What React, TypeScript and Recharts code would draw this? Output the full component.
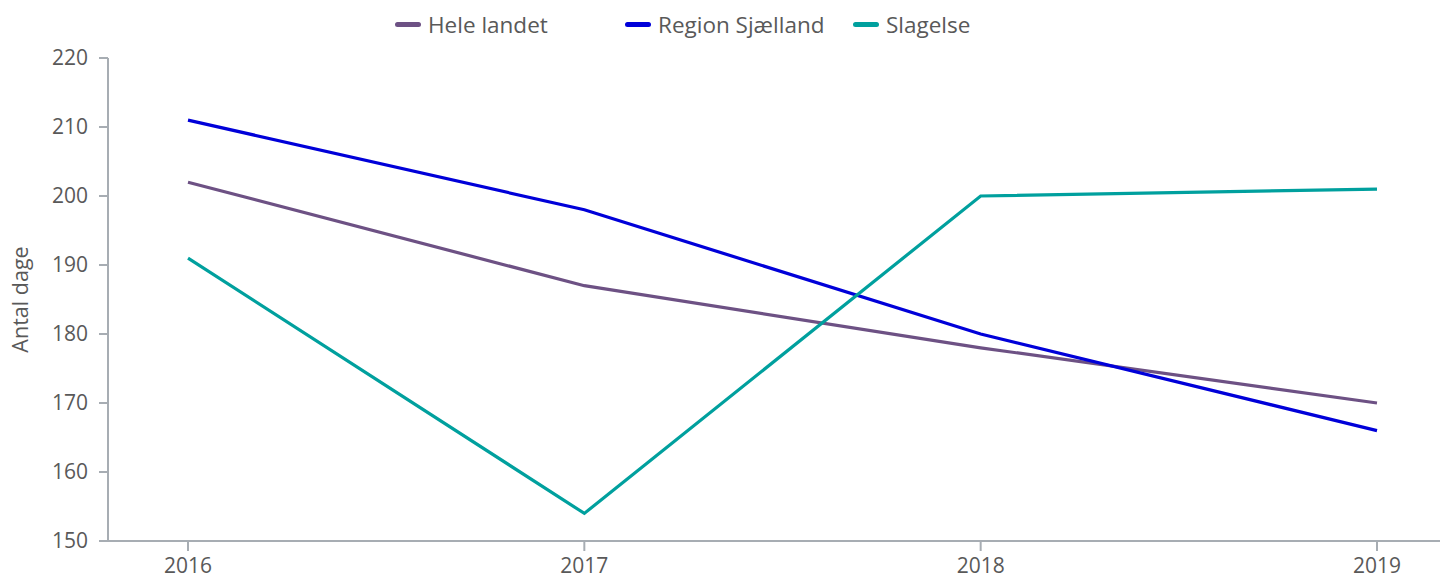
import { LineChart, Line, XAxis, YAxis } from 'recharts';

const years = ['2016', '2017', '2018', '2019'];
const heleLandet = [202, 187, 178, 170];
const regionSjaelland = [211, 198, 180, 166];
const slagelse = [191, 154, 200, 201];
const yTicks = [150, 160, 170, 180, 190, 200, 210, 220];

const series = [
  { key: 'hele', name: 'Hele landet', color: '#6d5184', legendX: 387 },
  { key: 'region', name: 'Region Sjælland', color: '#0000d9', legendX: 617 },
  { key: 'slagelse', name: 'Slagelse', color: '#00a09e', legendX: 845 },
];

const data = years.map((year, i) => ({
  year,
  hele: heleLandet[i],
  region: regionSjaelland[i],
  slagelse: slagelse[i],
}));

const FONT = '"Open Sans", "Noto Sans", sans-serif';
const TEXT = '#595959';
const AXIS = '#a7adb3';

export default function App() {
  return (
    <div style={{ position: 'relative', width: 1440, height: 575, fontFamily: FONT }}>
      {/* legend */}
      {series.map((s) => (
        <div
          key={s.key}
          style={{ position: 'absolute', left: s.legendX, top: 1, height: 30, display: 'flex', alignItems: 'center' }}
        >
          <span style={{ width: 26, height: 5, borderRadius: 3, background: s.color, marginRight: 7 }} />
          <span style={{ fontSize: 22.5, color: TEXT }}>{s.name}</span>
        </div>
      ))}
      <LineChart width={1440} height={575} data={data} margin={{ top: 50, right: 1, bottom: 12, left: 0 }}>
        <XAxis
          dataKey="year"
          padding={{ left: 80, right: 70 }}
          stroke={AXIS}
          strokeWidth={2}
          tickSize={10}
          tickMargin={7}
          height={30}
          tick={{ fill: TEXT, fontSize: 21, fontFamily: FONT }}
        />
        <YAxis
          domain={[150, 220]}
          ticks={yTicks}
          width={100}
          stroke={AXIS}
          strokeWidth={2}
          tickSize={9}
          tickMargin={11}
          tick={{ fill: TEXT, fontSize: 21, fontFamily: FONT }}
          label={({ viewBox }: any) => (
            <g transform={`translate(13, ${viewBox.y + viewBox.height / 2}) rotate(-90)`}>
              <text x={0} y={7} textAnchor="middle" fill={TEXT} fontSize={21.5} fontFamily={FONT}>
                Antal dage
              </text>
            </g>
          )}
        />
        {series.map((s) => (
          <Line
            key={s.key}
            dataKey={s.key}
            name={s.name}
            stroke={s.color}
            strokeWidth={3.2}
            dot={false}
            activeDot={false}
            isAnimationActive={false}
          />
        ))}
      </LineChart>
    </div>
  );
}
